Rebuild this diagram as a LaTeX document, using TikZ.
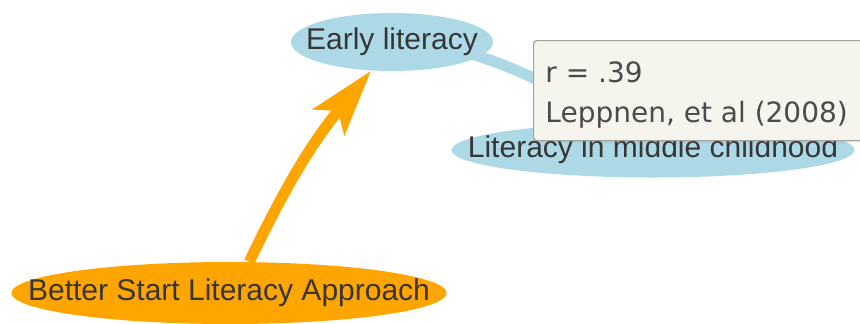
\documentclass[tikz,border=0pt]{standalone}
\usepackage{fontspec}
\setmainfont{Liberation Sans}
\newfontfamily\tipfont{DejaVu Sans}
\usetikzlibrary{arrows.meta,shapes.geometric,backgrounds,shadows}
\definecolor{topicblue}{HTML}{ADD8E6}
\definecolor{actionorange}{HTML}{FFA500}
\definecolor{ink}{HTML}{363636}
\definecolor{tipfill}{HTML}{F5F4ED}
\definecolor{tipline}{HTML}{A3A39D}
\definecolor{tipink}{HTML}{4B4B4B}

\begin{document}
\begin{tikzpicture}[
  x=0.5pt, y=-0.5pt,
  lbl/.style={text=ink, inner sep=0pt, font=\fontsize{15}{18}\selectfont},
  topic/.style={ellipse, fill=topicblue, draw=none, inner sep=0pt},
  action/.style={topic, fill=actionorange},
  link/.style={draw=topicblue, line width=5.5pt},
  cause/.style={-{Stealth[length=33pt, width=20pt, inset=7pt]}, draw=actionorange, line width=5.5pt},
  tipbox/.style={rectangle, rounded corners=1.5pt, fill=tipfill, draw=tipline, line width=0.6pt,
                 drop shadow={opacity=0.12, shadow xshift=1.2pt, shadow yshift=-1.2pt}},
  tiptext/.style={text=tipink, inner sep=0pt, font=\tipfont\fontsize{14}{20}\selectfont}
]
\useasboundingbox (0,0) rectangle (860,323);

% nodes
\node[topic, minimum width=101pt, minimum height=29pt,
      label={[lbl]center:Early literacy}] (early) at (392,42) {};
\node[topic, minimum width=201.5pt, minimum height=27.5pt,
      label={[lbl]center:Literacy in middle childhood}] (middle) at (653,150) {};
\node[action, minimum width=217.5pt, minimum height=31pt,
      label={[lbl]center:Better Start Literacy Approach}] (bsla) at (229,293) {};

% edges, under the nodes
\begin{scope}[on background layer]
  \fill[white] (0,0) rectangle (860,323);
  \draw[link] (early.center) .. controls (464,41) and (551,77) .. (middle.center);
  \draw[cause] (bsla.57) to[bend left=7] (early.234);
\end{scope}

% hover tooltip
\node[tipbox, anchor=north west, minimum width=170pt, minimum height=50pt] (tip) at (533,40) {};
\node[tiptext, anchor=base west] (tipr) at (545,82) {r = .39};
\node[tiptext, anchor=base west] (tipref) at (545,122) {Leppnen, et al (2008)};

\end{tikzpicture}
\end{document}
